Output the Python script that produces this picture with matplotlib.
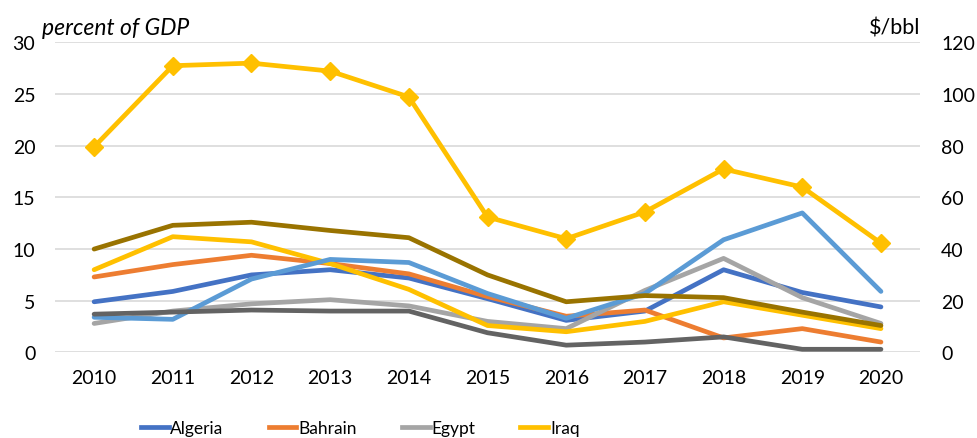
import matplotlib
matplotlib.use("Agg")
import matplotlib.pyplot as plt
from matplotlib.lines import Line2D

years = [2010, 2011, 2012, 2013, 2014, 2015, 2016, 2017, 2018, 2019, 2020]

# percent of GDP (left axis)
algeria = [4.9, 5.9, 7.5, 8.0, 7.2, 5.2, 3.1, 4.0, 8.0, 5.8, 4.4]
bahrain = [7.3, 8.5, 9.4, 8.6, 7.6, 5.4, 3.5, 4.1, 1.4, 2.3, 1.0]
egypt = [2.8, 4.0, 4.7, 5.1, 4.5, 3.0, 2.3, 6.0, 9.1, 5.3, 2.8]
iraq = [8.0, 11.2, 10.7, 8.6, 6.1, 2.6, 2.0, 3.0, 4.9, 3.6, 2.3]
light_blue = [3.4, 3.2, 7.1, 9.0, 8.7, 5.7, 3.3, 5.7, 10.9, 13.5, 5.9]
dark_gray = [3.7, 3.9, 4.1, 4.0, 4.0, 1.9, 0.7, 1.0, 1.5, 0.3, 0.3]
dark_gold = [10.0, 12.3, 12.6, 11.8, 11.1, 7.5, 4.9, 5.5, 5.3, 3.9, 2.6]

# oil price, $/bbl (right axis)
oil_price = [79.6, 111.0, 112.0, 108.9, 98.9, 52.4, 44.0, 54.4, 71.0, 64.0, 42.3]

plt.rcParams["font.family"] = ["Lato", "DejaVu Sans"]

fig = plt.figure(figsize=(9.78, 4.39), dpi=100)
ax = fig.add_axes([0.056, 0.195, 0.885, 0.706])
ax2 = ax.twinx()

lw = 3.4
ax.plot(years, algeria, color="#4472C4", lw=lw, solid_capstyle="round", zorder=3)
ax.plot(years, bahrain, color="#ED7D31", lw=lw, solid_capstyle="round", zorder=3)
ax.plot(years, egypt, color="#A5A5A5", lw=lw, solid_capstyle="round", zorder=3)
ax.plot(years, iraq, color="#FFC000", lw=lw, solid_capstyle="round", zorder=3)
ax.plot(years, light_blue, color="#5B9BD5", lw=lw, solid_capstyle="round", zorder=3)
ax.plot(years, dark_gray, color="#636363", lw=lw, solid_capstyle="round", zorder=3)
ax.plot(years, dark_gold, color="#997300", lw=lw, solid_capstyle="round", zorder=3)

ax2.plot(years, oil_price, color="#FFC000", lw=lw, marker="D", markersize=9,
         solid_capstyle="round", zorder=4)

ax.set_xlim(2009.5, 2020.5)
ax.set_ylim(0, 30)
ax2.set_ylim(0, 120)
ax.set_yticks(range(0, 31, 5))
ax2.set_yticks(range(0, 121, 20))
ax.set_xticks(years)

ax.grid(axis="y", color="#D9D9D9", lw=1.2)
ax.set_axisbelow(True)
for a in (ax, ax2):
    for s in a.spines.values():
        s.set_visible(False)
    a.tick_params(length=0, labelsize=14, colors="black")
ax.tick_params(axis="y", pad=14)
ax2.tick_params(axis="y", pad=15)
ax.tick_params(axis="x", pad=12)

fig.text(0.043, 0.935, "percent of GDP", fontsize=16.5, style="italic", ha="left", va="center")
fig.text(0.941, 0.935, "$/bbl", fontsize=15.5, ha="right", va="center")

handles = [Line2D([], [], color=c, lw=lw) for c in ["#4472C4", "#ED7D31", "#A5A5A5", "#FFC000"]]
fig.legend(handles, ["Algeria", "Bahrain", "Egypt", "Iraq"], ncol=4, frameon=False,
           loc="center left", bbox_to_anchor=(0.128, 0.022), fontsize=12.5,
           handlelength=1.6, handletextpad=0.1, columnspacing=2.6)

fig.savefig("out.png", dpi=100)
